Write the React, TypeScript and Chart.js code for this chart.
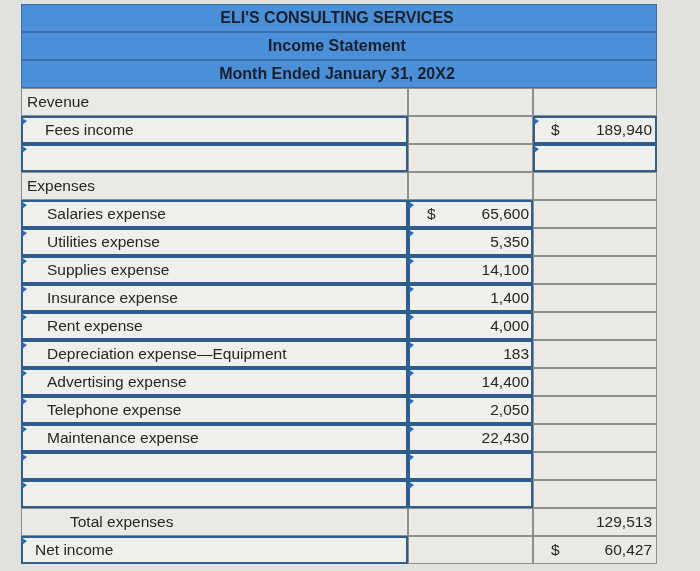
import React, { useEffect, useRef } from "react";
import { Chart, registerables } from "chart.js";

Chart.register(...registerables);

// ---- data ----
const titles = ["ELI'S CONSULTING SERVICES", "Income Statement", "Month Ended January 31, 20X2"];
const rowLabels = [
  "Revenue",
  "Fees income",
  "",
  "Expenses",
  "Salaries expense",
  "Utilities expense",
  "Supplies expense",
  "Insurance expense",
  "Rent expense",
  "Depreciation expense\u2014Equipment",
  "Advertising expense",
  "Telephone expense",
  "Maintenance expense",
  "",
  "",
  "Total expenses",
  "Net income",
];
const expenseAmounts = [65600, 5350, 14100, 1400, 4000, 183, 14400, 2050, 22430];
const feesIncome = 189940;
const totalExpenses = 129513;
const netIncome = 60427;
// column-2 (amount) values by row, column-3 (total) values by row
const col2Values: (number | null)[] = [null, null, null, null, ...expenseAmounts, null, null, null, null];
const col3Values: (number | null)[] = [null, feesIncome, null, null, null, null, null, null, null, null, null, null, null, null, null, totalExpenses, netIncome];
const col2Dollar = [false, false, false, false, true, false, false, false, false, false, false, false, false, false, false, false, false];
const col3Dollar = [false, true, false, false, false, false, false, false, false, false, false, false, false, false, false, false, true];
const col1Input = [false, true, true, false, true, true, true, true, true, true, true, true, true, true, true, false, true];
const col2Input = [false, false, false, false, true, true, true, true, true, true, true, true, true, true, true, false, false];
const col3Input = [false, true, true, false, false, false, false, false, false, false, false, false, false, false, false, false, false];

// ---- layout ----
const COLS = [0, 387, 512, 636];
const INDENT_PX = [0, 18, 18, 0, 20, 20, 20, 20, 20, 20, 20, 20, 20, 20, 20, 43, 8];
const NT = titles.length;
const N = NT + rowLabels.length;
const FONT = "'Liberation Sans', Arial, Helvetica, sans-serif";
const HEADER_FILL = "#4b8fd8";
const CELL_FILL = "#eae9e6";
const INPUT_FILL = "#efefec";
const GREY_BORDER = "#8e8e8c";
const BLUE_BORDER = "#2f5e8c";

const fmt = (v: number) => v.toLocaleString("en-US");

export default function App() {
  const ref = useRef<HTMLCanvasElement | null>(null);

  useEffect(() => {
    if (!ref.current) return;
    const labels = Array.from({ length: N }, (_, i) => String(i));

    const headerData = labels.map((_, i) => (i < NT ? [COLS[0], COLS[3]] : null));
    const colData = (c: number) => labels.map((_, i) => (i < NT ? null : [COLS[c], COLS[c + 1]]));
    const inputs = [col1Input, col2Input, col3Input];

    const colDataset = (c: number) => ({
      data: colData(c) as any,
      grouped: false,
      barPercentage: 1,
      categoryPercentage: 1,
      borderSkipped: false as any,
      inflateAmount: 0,
      backgroundColor: (ctx: any) => (inputs[c][ctx.dataIndex - NT] ? INPUT_FILL : CELL_FILL),
      borderColor: (ctx: any) => (inputs[c][ctx.dataIndex - NT] ? BLUE_BORDER : GREY_BORDER),
      borderWidth: (ctx: any) => (inputs[c][ctx.dataIndex - NT] ? 2 : 1),
    });

    const textPlugin = {
      id: "tableText",
      beforeDraw(chart: any) {
        const c = chart.ctx;
        c.save();
        c.fillStyle = "#e1e1de";
        c.fillRect(0, 0, chart.width, chart.height);
        c.restore();
      },
      afterDatasetsDraw(chart: any) {
        const c = chart.ctx;
        const xs = chart.scales.x;
        const ys = chart.scales.y;
        c.save();
        c.textBaseline = "middle";
        // titles
        c.font = `bold 16px ${FONT}`;
        c.fillStyle = "#17202b";
        c.textAlign = "center";
        const mid = xs.getPixelForValue((COLS[0] + COLS[3]) / 2) - 2;
        titles.forEach((t, i) => {
          c.fillText(t, mid, ys.getPixelForValue(i) + 1);
        });
        const rowH = ys.getPixelForValue(1) - ys.getPixelForValue(0);
        c.font = `15.5px ${FONT}`;
        c.fillStyle = "#262626";
        rowLabels.forEach((lab, r) => {
          const y = ys.getPixelForValue(r + NT) + 1;
          c.textAlign = "left";
          if (lab) c.fillText(lab, xs.getPixelForValue(COLS[0]) + 6 + INDENT_PX[r], y);
          const v2 = col2Values[r];
          if (v2 != null) {
            c.textAlign = "right";
            c.fillText(fmt(v2), xs.getPixelForValue(COLS[2]) - 4, y);
          }
          if (col2Dollar[r]) {
            c.textAlign = "left";
            c.fillText("$", xs.getPixelForValue(COLS[1]) + 19, y);
          }
          const v3 = col3Values[r];
          if (v3 != null) {
            c.textAlign = "right";
            c.fillText(fmt(v3), xs.getPixelForValue(COLS[3]) - 5, y);
          }
          if (col3Dollar[r]) {
            c.textAlign = "left";
            c.fillText("$", xs.getPixelForValue(COLS[2]) + 18, y);
          }
          // input flags
          inputs.forEach((inp, ci) => {
            if (!inp[r]) return;
            const x0 = xs.getPixelForValue(COLS[ci]) + 1;
            const y0 = ys.getPixelForValue(r + NT) - rowH / 2 + 2;
            c.fillStyle = "#2f6ab0";
            c.beginPath();
            c.moveTo(x0, y0);
            c.lineTo(x0 + 5, y0 + 3);
            c.lineTo(x0, y0 + 7);
            c.closePath();
            c.fill();
            c.fillStyle = "#262626";
          });
        });
        c.restore();
      },
    };

    const chart = new Chart(ref.current, {
      type: "bar",
      data: {
        labels,
        datasets: [
          {
            data: headerData as any,
            grouped: false,
            barPercentage: 1,
            categoryPercentage: 1,
            borderSkipped: false as any,
            inflateAmount: 0,
            backgroundColor: HEADER_FILL,
            borderColor: "#3a6ea8",
            borderWidth: 1,
          } as any,
          colDataset(0) as any,
          colDataset(1) as any,
          colDataset(2) as any,
        ],
      },
      options: {
        indexAxis: "y",
        animation: false,
        responsive: true,
        maintainAspectRatio: false,
        layout: { padding: { left: 21, right: 43, top: 4, bottom: 7 } },
        scales: {
          x: { type: "linear", min: COLS[0], max: COLS[3], display: false },
          y: { type: "category", display: false, offset: true },
        },
        plugins: { legend: { display: false }, tooltip: { enabled: false } },
      },
      plugins: [textPlugin],
    });
    return () => chart.destroy();
  }, []);

  return (
    <div style={{ position: "absolute", left: 0, top: 0, width: 700, height: 571 }}>
      <canvas ref={ref} />
    </div>
  );
}
